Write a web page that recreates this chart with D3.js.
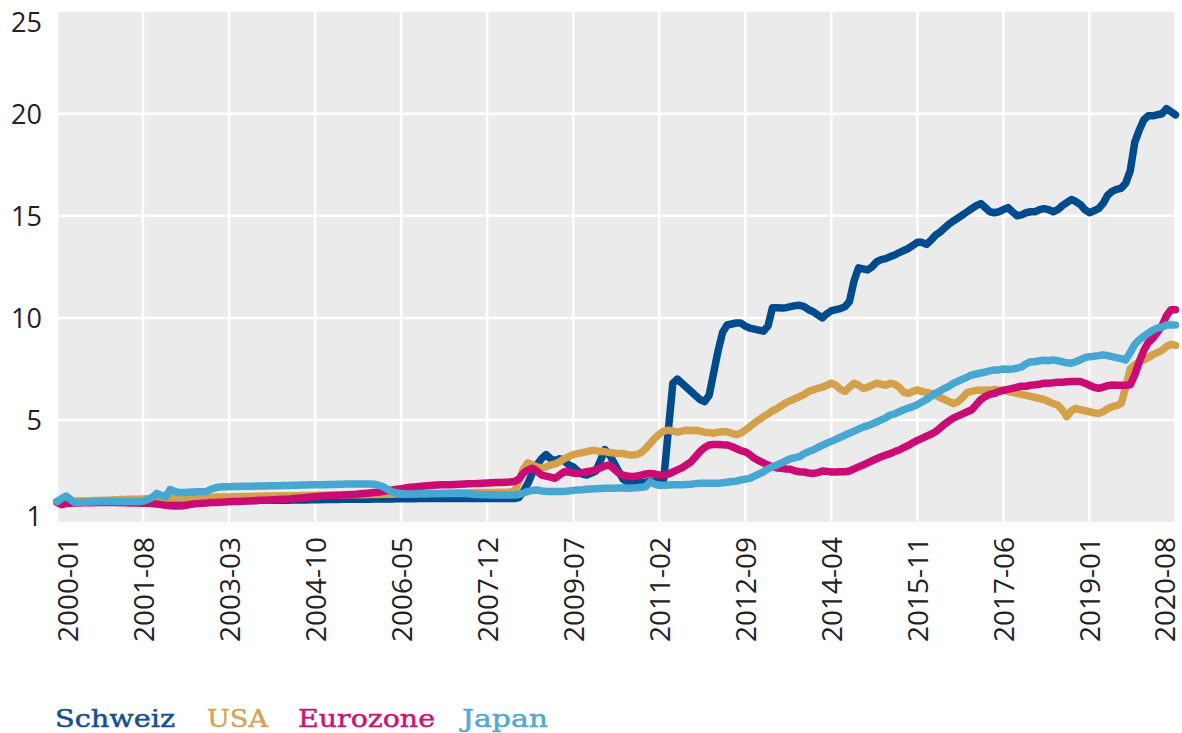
<!DOCTYPE html>
<html><head><meta charset="utf-8">
<script src="https://cdn.jsdelivr.net/npm/d3@7"></script>
<style>body{margin:0;background:#fff}svg{display:block}</style>
</head><body>
<svg id="chart" width="1182" height="733"></svg>
<script>
// categories: monthly 2000-01 .. 2020-08
const months = d3.timeMonth.range(new Date(2000,0,1), new Date(2020,8,1)).map(d3.timeFormat("%Y-%m"));
const xTickLabels = ["2000-01","2001-08","2003-03","2004-10","2006-05","2007-12","2009-07","2011-02","2012-09","2014-04","2015-11","2017-06","2019-01","2020-08"];
const yTickValues = [1,5,10,15,20,25];
const seriesNames = ["Schweiz","USA","Eurozone","Japan"];
const seriesColors = ["#004b8d","#d4a04a","#cc0a74","#46a7d2"];
const legendColors = ["#15508d","#d5a456","#c8157a","#53a9cf"];

const schweiz = [
1.0,1.1,1.0,1.0,1.0,1.0,1.0,1.0,1.0,1.0,1.0,1.0,
1.0,1.0,1.0,1.0,1.0,1.0,1.0,1.0,1.0,1.0,1.0,1.0,
1.0,1.0,1.0,1.0,1.0,1.0,1.01,1.01,1.02,1.02,1.02,1.03,
1.03,1.03,1.04,1.04,1.04,1.05,1.05,1.05,1.05,1.06,1.06,1.06,
1.06,1.07,1.07,1.07,1.08,1.08,1.08,1.08,1.09,1.09,1.09,1.1,
1.1,1.1,1.1,1.11,1.11,1.11,1.12,1.12,1.12,1.12,1.13,1.13,
1.13,1.13,1.13,1.14,1.14,1.14,1.14,1.14,1.15,1.15,1.15,1.15,
1.15,1.15,1.15,1.15,1.15,1.15,1.15,1.15,1.15,1.15,1.15,1.15,
1.15,1.15,1.15,1.15,1.15,1.15,1.2,1.5,1.9,2.4,2.8,3.1,
3.3,3.1,3.0,3.1,3.0,2.8,2.7,2.5,2.35,2.3,2.4,2.5,
3.0,3.55,3.3,2.9,2.5,2.1,1.95,1.9,1.9,1.95,1.95,2.0,
2.0,2.05,2.1,4.5,6.8,7.0,6.8,6.6,6.4,6.2,6.0,5.9,
6.2,7.3,8.4,9.3,9.65,9.7,9.75,9.75,9.6,9.5,9.45,9.4,
9.35,9.6,10.5,10.5,10.48,10.5,10.55,10.6,10.62,10.55,10.4,10.3,
10.15,10.0,10.2,10.35,10.4,10.45,10.55,10.8,11.8,12.45,12.4,12.35,
12.5,12.75,12.85,12.9,13.0,13.08,13.2,13.3,13.4,13.55,13.7,13.7,
13.6,13.8,14.05,14.2,14.4,14.6,14.75,14.9,15.05,15.2,15.35,15.5,
15.6,15.4,15.2,15.15,15.2,15.3,15.4,15.2,15.0,15.05,15.15,15.2,
15.2,15.3,15.35,15.3,15.2,15.3,15.5,15.65,15.8,15.7,15.55,15.3,
15.15,15.25,15.35,15.6,16.0,16.2,16.3,16.35,16.6,17.2,18.6,19.2,
19.7,19.9,19.9,19.95,20.0,20.25,20.1,19.95];

const usa = [
1.0,1.0,1.0,1.0,1.02,1.03,1.03,1.04,1.05,1.05,1.06,1.07,
1.08,1.09,1.1,1.1,1.11,1.12,1.12,1.13,1.14,1.15,1.15,1.16,
1.16,1.17,1.17,1.18,1.18,1.19,1.19,1.2,1.2,1.21,1.21,1.22,
1.22,1.23,1.23,1.24,1.24,1.25,1.25,1.25,1.26,1.26,1.27,1.27,
1.27,1.28,1.28,1.28,1.29,1.29,1.3,1.3,1.3,1.31,1.31,1.31,
1.32,1.32,1.32,1.33,1.33,1.33,1.34,1.34,1.34,1.35,1.35,1.35,
1.36,1.36,1.36,1.37,1.37,1.37,1.38,1.38,1.38,1.39,1.39,1.4,
1.4,1.4,1.41,1.41,1.42,1.42,1.42,1.43,1.43,1.44,1.44,1.45,
1.45,1.45,1.46,1.46,1.47,1.5,2.0,2.6,2.9,2.8,2.7,2.65,
2.7,2.8,2.85,2.95,3.1,3.2,3.3,3.35,3.4,3.45,3.5,3.5,
3.45,3.45,3.4,3.38,3.35,3.35,3.3,3.28,3.3,3.4,3.6,3.85,
4.1,4.3,4.45,4.5,4.45,4.4,4.45,4.5,4.48,4.5,4.45,4.4,
4.38,4.35,4.4,4.42,4.42,4.35,4.28,4.35,4.5,4.67,4.85,5.0,
5.16,5.3,5.45,5.55,5.7,5.85,5.95,6.05,6.14,6.25,6.4,6.47,
6.55,6.6,6.7,6.8,6.7,6.5,6.4,6.6,6.8,6.7,6.55,6.6,
6.7,6.8,6.75,6.7,6.8,6.75,6.6,6.35,6.3,6.4,6.47,6.4,
6.35,6.3,6.2,6.1,6.0,5.9,5.8,5.9,6.1,6.35,6.4,6.45,
6.45,6.47,6.45,6.5,6.45,6.47,6.4,6.35,6.3,6.25,6.2,6.15,
6.1,6.05,6.0,5.9,5.8,5.73,5.5,5.16,5.45,5.57,5.5,5.45,
5.4,5.35,5.32,5.4,5.55,5.65,5.7,5.8,6.6,7.5,7.7,7.85,
7.95,8.05,8.2,8.3,8.4,8.6,8.7,8.65];

const eurozone = [
0.95,0.85,0.9,0.92,0.93,0.93,0.94,0.94,0.94,0.95,0.95,0.95,
0.95,0.95,0.94,0.94,0.93,0.93,0.93,0.92,0.92,0.9,0.88,0.85,
0.82,0.8,0.78,0.78,0.8,0.84,0.88,0.9,0.92,0.93,0.95,0.96,
0.97,0.98,0.99,1.0,1.01,1.02,1.03,1.04,1.05,1.06,1.07,1.08,
1.09,1.1,1.11,1.12,1.14,1.16,1.18,1.2,1.22,1.24,1.26,1.28,
1.29,1.3,1.31,1.32,1.34,1.35,1.36,1.38,1.4,1.42,1.44,1.46,
1.5,1.53,1.57,1.6,1.63,1.67,1.7,1.72,1.74,1.76,1.78,1.8,
1.81,1.82,1.82,1.83,1.84,1.85,1.86,1.87,1.88,1.89,1.9,1.91,
1.92,1.93,1.94,1.95,1.96,1.98,2.1,2.4,2.55,2.63,2.5,2.3,
2.25,2.2,2.14,2.3,2.46,2.45,2.4,2.38,2.42,2.46,2.5,2.55,
2.65,2.75,2.79,2.6,2.4,2.3,2.25,2.22,2.25,2.3,2.35,2.38,
2.35,2.3,2.3,2.35,2.45,2.55,2.65,2.8,2.95,3.2,3.45,3.65,
3.77,3.8,3.8,3.78,3.77,3.7,3.6,3.5,3.44,3.3,3.12,3.0,
2.9,2.79,2.7,2.65,2.63,2.6,2.58,2.5,2.46,2.45,2.4,2.38,
2.42,2.5,2.48,2.45,2.45,2.46,2.46,2.5,2.6,2.7,2.79,2.9,
3.0,3.1,3.2,3.28,3.35,3.45,3.53,3.65,3.75,3.88,4.0,4.1,
4.2,4.3,4.42,4.6,4.8,4.95,5.1,5.2,5.3,5.4,5.5,5.75,
6.0,6.15,6.25,6.3,6.39,6.45,6.5,6.55,6.6,6.65,6.65,6.7,
6.72,6.75,6.8,6.8,6.82,6.85,6.85,6.87,6.88,6.88,6.88,6.8,
6.7,6.6,6.55,6.6,6.68,6.71,6.7,6.7,6.7,6.72,7.2,7.85,
8.4,8.8,9.0,9.3,9.6,10.1,10.4,10.4];

const japan = [
1.0,1.15,1.27,1.1,0.95,0.95,0.97,0.98,0.98,1.0,1.0,1.0,
1.0,1.0,1.0,0.99,1.0,1.0,1.0,1.02,1.1,1.2,1.4,1.3,
1.24,1.6,1.5,1.44,1.45,1.46,1.47,1.48,1.48,1.5,1.6,1.68,
1.72,1.73,1.73,1.74,1.74,1.75,1.75,1.75,1.76,1.76,1.76,1.77,
1.78,1.78,1.79,1.79,1.8,1.8,1.81,1.81,1.82,1.82,1.83,1.83,
1.84,1.84,1.85,1.85,1.86,1.86,1.86,1.86,1.86,1.86,1.85,1.8,
1.73,1.6,1.48,1.42,1.4,1.38,1.37,1.38,1.4,1.4,1.4,1.4,
1.4,1.4,1.4,1.4,1.4,1.4,1.4,1.38,1.36,1.35,1.34,1.33,
1.32,1.32,1.32,1.32,1.32,1.32,1.35,1.42,1.5,1.55,1.57,1.52,
1.5,1.49,1.5,1.49,1.5,1.52,1.55,1.57,1.58,1.6,1.62,1.63,
1.64,1.65,1.65,1.65,1.66,1.66,1.65,1.67,1.68,1.7,1.73,1.97,
1.85,1.8,1.8,1.81,1.82,1.82,1.83,1.84,1.85,1.88,1.9,1.9,
1.9,1.9,1.9,1.92,1.95,1.98,2.0,2.06,2.1,2.14,2.25,2.35,
2.46,2.6,2.7,2.8,2.9,3.0,3.1,3.15,3.2,3.35,3.45,3.53,
3.65,3.75,3.86,3.95,4.05,4.15,4.26,4.35,4.45,4.55,4.65,4.72,
4.8,4.9,5.0,5.1,5.24,5.3,5.4,5.5,5.58,5.65,5.75,5.88,
6.0,6.15,6.3,6.42,6.55,6.65,6.8,6.9,7.0,7.1,7.2,7.25,
7.3,7.35,7.4,7.45,7.45,7.5,7.48,7.5,7.53,7.6,7.75,7.85,
7.85,7.9,7.92,7.9,7.94,7.9,7.85,7.8,7.78,7.85,7.95,8.05,
8.1,8.12,8.15,8.19,8.15,8.1,8.05,8.0,7.94,8.3,8.7,8.92,
9.1,9.25,9.4,9.5,9.55,9.65,9.65,9.65];

const seriesValues = [schweiz, usa, eurozone, japan];

const svg = d3.select("#chart");
const panel = {left: 57, right: 1175.5, top: 11.7, bottom: 522};

const x = d3.scalePoint().domain(months).range([panel.left, panel.right]);
const y = d3.scaleLinear().domain([0, 25]).range([panel.bottom, panel.top]);

svg.append("rect")
  .attr("x", panel.left).attr("y", panel.top)
  .attr("width", panel.right - panel.left).attr("height", panel.bottom - panel.top)
  .attr("fill", "#ebebeb");

// grid
const grid = svg.append("g");
grid.selectAll("line.v").data(xTickLabels).join("line")
  .attr("x1", d => x(d)).attr("x2", d => x(d))
  .attr("y1", panel.top).attr("y2", panel.bottom)
  .attr("stroke", "#fff").attr("stroke-width", 2.5);
grid.selectAll("line.h").data(yTickValues.filter(v => v > 1 && v < 25)).join("line")
  .attr("x1", panel.left).attr("x2", panel.right)
  .attr("y1", d => y(d)).attr("y2", d => y(d))
  .attr("stroke", "#fff").attr("stroke-width", 2.5);

// lines
const line = d3.line().x((d, i) => x(months[i])).y(d => y(d)).curve(d3.curveLinear);
svg.append("g").selectAll("path").data(seriesValues).join("path")
  .attr("d", d => line(d))
  .attr("fill", "none")
  .attr("stroke", (d, i) => seriesColors[i])
  .attr("stroke-width", 7.5)
  .attr("stroke-linejoin", "round")
  .attr("stroke-linecap", "round");

// y labels
svg.append("g").selectAll("text").data(yTickValues).join("text")
  .attr("x", 42)
  .attr("y", (d, i) => {
    const p = i === 0 ? panel.bottom : y(d);
    return Math.max(panel.top + 10, Math.min(panel.bottom - 7, p));
  })
  .attr("text-anchor", "end")
  .attr("dominant-baseline", "central")
  .attr("font-family", "'Open Sans', sans-serif")
  .attr("font-size", 27)
  .attr("fill", "#222")
  .text(d => d);

// x labels
svg.append("g").selectAll("text").data(xTickLabels).join("text")
  .attr("transform", d => {
    const px = Math.max(panel.left + 10, Math.min(panel.right - 12, x(d)));
    return `translate(${px},537) rotate(-90)`;
  })
  .attr("text-anchor", "end")
  .attr("dominant-baseline", "central")
  .attr("font-family", "'Open Sans', sans-serif")
  .attr("font-size", 28)
  .attr("fill", "#222")
  .text(d => d);

// legend
const legendX = [55, 207, 298, 462];
const legendW = [120, 61, 137, 86];
svg.append("g").selectAll("text").data(seriesNames).join("text")
  .attr("x", (d, i) => legendX[i])
  .attr("y", 727)
  .attr("font-family", "'DejaVu Serif', serif")
  .attr("font-size", 24)
  .attr("textLength", (d, i) => legendW[i])
  .attr("lengthAdjust", "spacingAndGlyphs")
  .attr("fill", (d, i) => legendColors[i])
  .attr("stroke", (d, i) => legendColors[i])
  .attr("stroke-width", 0.5)
  .text(d => d);
</script>
</body></html>
